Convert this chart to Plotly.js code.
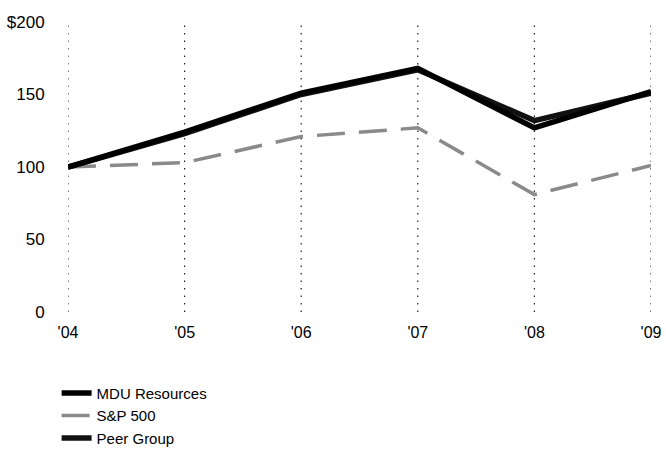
<!DOCTYPE html>
<html>
<head>
<meta charset="utf-8">
<script src="https://cdn.plot.ly/plotly-3.0.1.min.js"></script>
<style>html,body{margin:0;padding:0;background:#fff;}</style>
</head>
<body>
<div id="chart" style="width:666px;height:454px;"></div>
<script>
var years = [2004, 2005, 2006, 2007, 2008, 2009];
var yearLabels = ["'04", "'05", "'06", "'07", "'08", "'09"];
var mdu = [100, 124, 151, 168, 127, 152];
var sp500 = [100, 103, 121, 127, 81, 101];
var peer = [100, 123, 150, 167, 132, 151];
var yTicks = [0, 50, 100, 150, 200];
var yTickLabels = ["0", "50", "100", "150", "$200"];

var traces = [
  {x: years, y: sp500, name: "S&P 500", mode: "lines", legendrank: 2,
   line: {color: "#8a8a8a", width: 3.5, dash: "28px,14px"}},
  {x: years, y: peer, name: "Peer Group", mode: "lines", legendrank: 3,
   line: {color: "#111", width: 5.5}},
  {x: years, y: mdu, name: "MDU Resources", mode: "lines", legendrank: 1,
   line: {color: "#000", width: 5.5}}
];
var gridShapes = years.map(function (yr) {
  return {type: "line", xref: "x", yref: "paper", x0: yr, x1: yr, y0: 0, y1: 1,
          layer: "below", line: {color: "#222", width: 1.2, dash: "1.5px,6px"}};
});
var layout = {
  width: 666, height: 454,
  margin: {l: 68, r: 15, t: 22, b: 142, autoexpand: false},
  paper_bgcolor: "#fff", plot_bgcolor: "#fff",
  font: {family: "Liberation Sans, Arial, sans-serif", color: "#000", size: 16},
  showlegend: true,
  legend: {xref: "container", yref: "container", x: 0.085, y: 0.17, xanchor: "left", yanchor: "top",
           traceorder: "normal", font: {size: 15}, itemwidth: 30, tracegroupgap: 0},
  shapes: gridShapes,
  xaxis: {range: [2004, 2009], tickvals: years, ticktext: yearLabels,
          showgrid: false, zeroline: false, showline: false,
          ticks: "outside", ticklen: 6, tickcolor: "rgba(0,0,0,0)",
          tickfont: {size: 16}, fixedrange: true},
  yaxis: {range: [0, 200], tickvals: yTicks, ticktext: yTickLabels,
          showgrid: false, zeroline: false, showline: false,
          ticks: "outside", ticklen: 19, tickcolor: "rgba(0,0,0,0)", tickfont: {size: 17}}
};
Plotly.newPlot("chart", traces, layout, {displayModeBar: false, staticPlot: true});
</script>
</body>
</html>
